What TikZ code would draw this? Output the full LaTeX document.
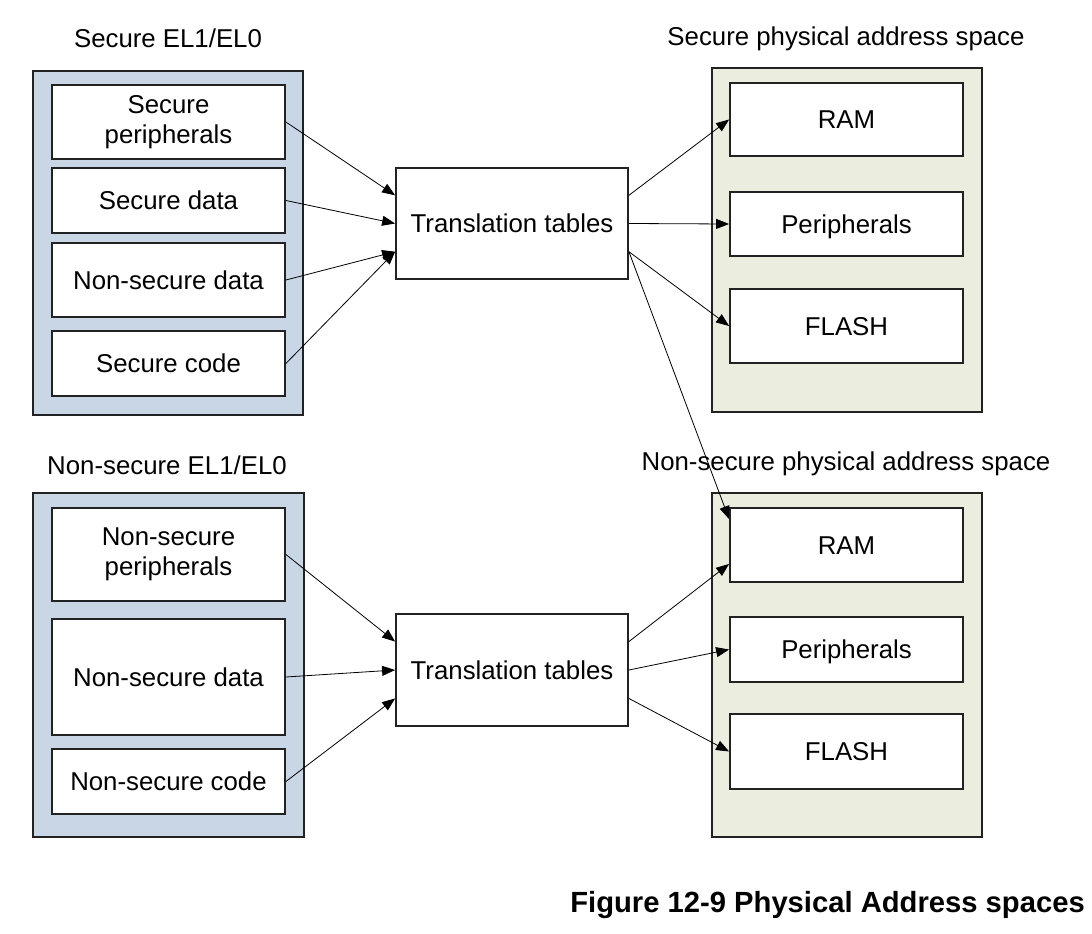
\documentclass[tikz,border=0pt]{standalone}
\usepackage{fontspec}
\setmainfont{Liberation Sans}
\usetikzlibrary{arrows.meta,calc}
\definecolor{secblue}{HTML}{C9D6E5}
\definecolor{memgreen}{HTML}{EBEEDF}
\definecolor{edge}{HTML}{222222}
\begin{document}
\begin{tikzpicture}[x=1pt,y=-1pt,
  txtbase/.style={font=\fontsize{25.8}{30}\selectfont, align=center, inner sep=0pt},
  txt/.style={txtbase, text height=18.5pt, text depth=0pt},
  outerblue/.style={draw=edge, line width=2pt, fill=secblue, inner sep=0pt},
  outergreen/.style={draw=edge, line width=2pt, fill=memgreen, inner sep=0pt},
  boxlook/.style={draw=edge, line width=1.8pt, fill=white, minimum width=233pt},
  itembox/.style={txt, boxlook},
  multibox/.style={txtbase, boxlook},
  ttbox/.style={txt, draw=edge, line width=1.8pt, fill=white, minimum width=232pt},
  conn/.style={draw=black, line width=0.8pt, -{Triangle[length=13pt,width=10pt]}},
  title/.style={txt},
  caption/.style={font=\fontsize{29.2}{34}\selectfont\bfseries, inner sep=0pt, anchor=east, text height=21pt, text depth=0pt}
]
\useasboundingbox (0,0) rectangle (1092,934);
\fill[white] (0,0) rectangle (1092,934);

% ---- top left: Secure EL1/EL0
\node[title] (t1) at (168,38) {Secure EL1/EL0};
\node[outerblue, minimum width=270pt, minimum height=344pt] (sec) at (168,243) {};
\node[multibox, minimum height=74pt] (sp) at (168.5,122) {Secure\\peripherals};
\node[itembox, minimum height=65pt] (sd) at (168.5,200.5) {Secure data};
\node[itembox, minimum height=74pt] (nsd) at (168.5,280) {Non-secure data};
\node[itembox, minimum height=65pt] (sc) at (168.5,363.5) {Secure code};

\node[ttbox, minimum height=111pt] (tt1) at (512,223.5) {Translation tables};

% ---- top right: Secure physical address space
\node[title] (t2) at (846,36) {Secure physical address space};
\node[outergreen, minimum width=270pt, minimum height=344pt] (spas) at (847,240) {};
\node[itembox, minimum height=73pt] (ram1) at (846.5,119.5) {RAM};
\node[itembox, minimum height=64pt] (per1) at (846.5,224) {Peripherals};
\node[itembox, minimum height=74pt] (fl1) at (846.5,326) {FLASH};

% ---- bottom left: Non-secure EL1/EL0
\node[title] (t3) at (167,465) {Non-secure EL1/EL0};
\node[outerblue, minimum width=271pt, minimum height=344pt] (nsec) at (168.5,665) {};
\node[multibox, minimum height=93pt] (nsp) at (168.5,554.5) {Non-secure\\peripherals};
\node[itembox, minimum height=116pt] (nsd2) at (168.5,677) {Non-secure data};
\node[itembox, minimum height=65pt] (nsc) at (168.5,781.5) {Non-secure code};

\node[ttbox, minimum height=112pt] (tt2) at (512,670) {Translation tables};

% ---- bottom right: Non-secure physical address space
\node[title] (t4) at (846,461) {Non-secure physical address space};
\node[outergreen, minimum width=270pt, minimum height=344pt] (nspas) at (847,665) {};
\node[itembox, minimum height=74pt] (ram2) at (846.5,545) {RAM};
\node[itembox, minimum height=65pt] (per2) at (846.5,649.5) {Peripherals};
\node[itembox, minimum height=75pt] (fl2) at (846.5,751.5) {FLASH};

% ---- connectors, top
\draw[conn] (sp.east) -- ($(tt1.north west)!0.25!(tt1.south west)$);
\draw[conn] (sd.east) -- (tt1.west);
\draw[conn] (nsd.east) -- ($(tt1.north west)!0.75!(tt1.south west)$);
\draw[conn] (sc.east) -- ($(tt1.north west)!0.75!(tt1.south west)$);

\draw[conn] ($(tt1.north east)!0.25!(tt1.south east)$) -- (ram1.west);
\draw[conn] (tt1.east) -- (per1.west);
\draw[conn] ($(tt1.north east)!0.75!(tt1.south east)$) -- (fl1.west);
\draw[conn] ($(tt1.north east)!0.75!(tt1.south east)$) -- ($(ram2.north west)+(0,12)$);

% ---- connectors, bottom
\draw[conn] (nsp.east) -- ($(tt2.north west)!0.25!(tt2.south west)$);
\draw[conn] (nsd2.east) -- (tt2.west);
\draw[conn] (nsc.east) -- ($(tt2.north west)!0.75!(tt2.south west)$);

\draw[conn] ($(tt2.north east)!0.25!(tt2.south east)$) -- ($(ram2.north west)!0.75!(ram2.south west)$);
\draw[conn] (tt2.east) -- (per2.west);
\draw[conn] ($(tt2.north east)!0.75!(tt2.south east)$) -- (fl2.west);

% ---- caption
\node[caption] (cap) at (1085,902) {Figure 12-9 Physical Address spaces};
\end{tikzpicture}
\end{document}
